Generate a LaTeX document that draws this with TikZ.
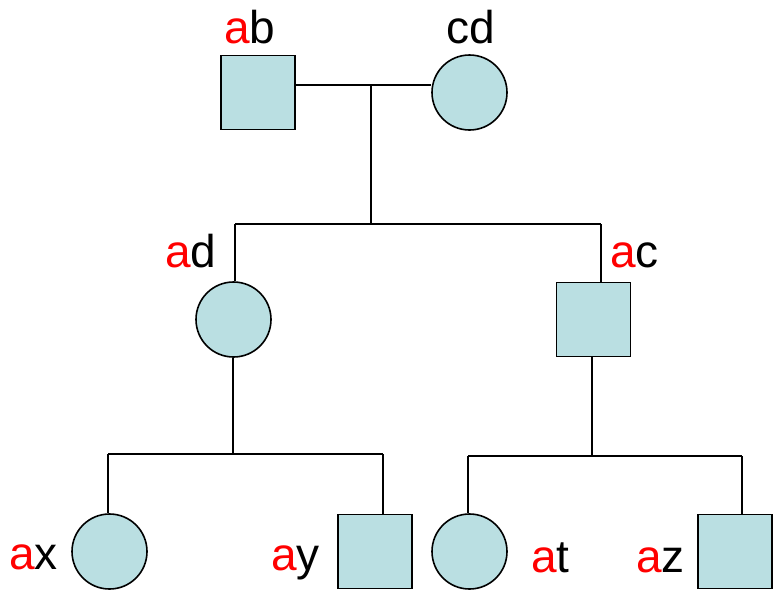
\documentclass[tikz,border=0pt]{standalone}
\usepackage{fontspec}
\setmainfont{Liberation Sans}
\usetikzlibrary{backgrounds}
\definecolor{shade}{RGB}{186,223,226}
\definecolor{allele}{RGB}{255,0,0}
\begin{document}
\begin{tikzpicture}[x=1pt,y=-1pt,
  male/.style={draw=black,fill=shade,line width=1.6pt,rectangle,minimum size=74pt,inner sep=0pt},
  female/.style={draw=black,fill=shade,line width=1.6pt,circle,minimum size=75pt,inner sep=0pt},
  link/.style={draw=black,line width=1.6pt},
  geno/.style={anchor=base west,inner sep=0pt,font=\fontsize{46}{54}\selectfont}]
\useasboundingbox (0,0) rectangle (773,592);

% individuals
\node[male]   (ab) at (258,92.5) {};
\node[female] (cd) at (469.5,92.5) {};
\node[female] (ad) at (233.5,319.5) {};
\node[male]   (ac) at (593.5,319.5) {};
\node[female] (ax) at (109.5,551.5) {};
\node[male]   (ay) at (375,551.5) {};
\node[female] (at) at (469.5,551.5) {};
\node[male]   (az) at (735,551.5) {};

% genotype labels
\node[geno] (lab) at (224,43)  {\textcolor{allele}{a}b};
\node[geno] (lcd) at (446,43)  {cd};
\node[geno] (lad) at (165,267) {\textcolor{allele}{a}d};
\node[geno] (lac) at (610,267) {\textcolor{allele}{a}c};
\node[geno] (lax) at (9,569)   {\textcolor{allele}{a}x};
\node[geno] (lay) at (271,570) {\textcolor{allele}{a}y};
\node[geno] (lat) at (531,572) {\textcolor{allele}{a}t};
\node[geno] (laz) at (636,572) {\textcolor{allele}{a}z};

% junction points of the pedigree lines
\coordinate (mate) at (371,85);
\coordinate (s1)   at (371,224);
\coordinate (s1l)  at (235,224);
\coordinate (s1r)  at (601,224);
\coordinate (s2)   at (233,454);
\coordinate (s2l)  at (108,454);
\coordinate (s2r)  at (383,454);
\coordinate (s3)   at (592,456);
\coordinate (s3l)  at (468,456);
\coordinate (s3r)  at (742,456);

\begin{scope}[on background layer]
  % mating line and descent
  \path[link] (ab.east |- mate) -- (cd.west |- mate);
  \path[link] (mate) -- (s1);
  \path[link] (s1l) -- (s1r);
  \path[link] (s1l) -- (ad.north -| s1l);
  \path[link] (s1r) -- (ac.north -| s1r);
  % children of ad
  \path[link] (ad.south -| s2) -- (s2);
  \path[link] (s2l) -- (s2r);
  \path[link] (s2l) -- (ax.north -| s2l);
  \path[link] (s2r) -- (ay.north -| s2r);
  % children of ac
  \path[link] (ac.south -| s3) -- (s3);
  \path[link] (s3l) -- (s3r);
  \path[link] (s3l) -- (at.north -| s3l);
  \path[link] (s3r) -- (az.north -| s3r);
\end{scope}
\end{tikzpicture}
\end{document}
